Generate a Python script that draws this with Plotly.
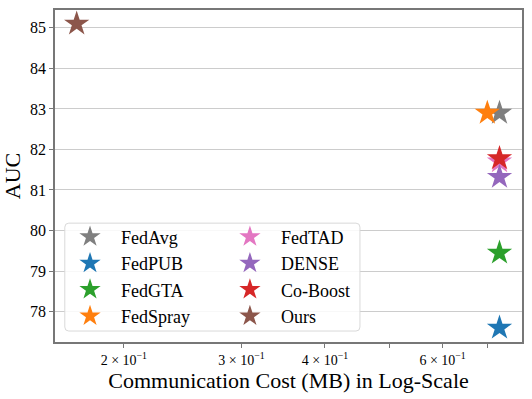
import plotly.graph_objects as go

methods = ["FedAvg", "FedPUB", "FedGTA", "FedSpray", "FedTAD", "DENSE", "Co-Boost", "Ours"]
comm_cost = [0.73, 0.73, 0.73, 0.70, 0.73, 0.73, 0.73, 0.17]
auc = [82.9, 77.6, 79.45, 82.9, 81.7, 81.32, 81.78, 85.1]
colors = ["#7f7f7f", "#1f77b4", "#2ca02c", "#ff7f0e", "#e377c2", "#9467bd", "#d62728", "#8c564b"]

x_tickvals = [0.2, 0.3, 0.4, 0.6]
x_ticktext = ["2 × 10<sup>−1</sup>", "3 × 10<sup>−1</sup>", "4 × 10<sup>−1</sup>",
              "6 × 10<sup>−1</sup>"]
x_minor_ticks = [0.5, 0.7]
y_tickvals = [78, 79, 80, 81, 82, 83, 84, 85]

serif = "Liberation Serif"

fig = go.Figure()
for i, m in enumerate(methods):
    # first four in the left legend column, rest in the right one
    fig.add_trace(go.Scatter(
        x=[comm_cost[i]], y=[auc[i]], mode="markers", name=m,
        marker=dict(symbol="star", size=19, color=colors[i], line=dict(width=0)),
        legend="legend" if i < 4 else "legend2",
    ))

leg = dict(yanchor="top", y=0.372, bgcolor="rgba(0,0,0,0)", borderwidth=0,
           font=dict(family=serif, size=18, color="black"),
           itemwidth=52, tracegroupgap=0, traceorder="normal")

# rounded legend frame (paper coords)
x0, x1, y0, y1 = 0.021, 0.653, 0.033, 0.358
rx, ry = 4 / 467, 4 / 332
frame = (f"M {x0+rx} {y0} L {x1-rx} {y0} Q {x1} {y0} {x1} {y0+ry} "
         f"L {x1} {y1-ry} Q {x1} {y1} {x1-rx} {y1} L {x0+rx} {y1} "
         f"Q {x0} {y1} {x0} {y1-ry} L {x0} {y0+ry} Q {x0} {y0} {x0+rx} {y0} Z")

fig.update_layout(
    width=532, height=399,
    margin=dict(l=55, r=10, t=10, b=57),
    plot_bgcolor="white", paper_bgcolor="white",
    font=dict(family=serif, color="black", size=15),
    showlegend=True,
    legend=dict(leg, x=0.0086, xanchor="left"),
    legend2=dict(leg, x=0.351, xanchor="left"),
    shapes=[dict(type="path", path=frame, xref="paper", yref="paper",
                 fillcolor="rgba(255,255,255,0.85)", line=dict(color="#d9d9d9", width=1),
                 layer="above")],
)
fig.update_xaxes(
    type="log", range=[-0.802, -0.103], automargin=False,
    tickvals=x_tickvals, ticktext=x_ticktext,
    minor=dict(tickvals=x_minor_ticks, ticks="outside", ticklen=4,
               tickcolor="#777777", showgrid=False),
    showgrid=False, zeroline=False,
    showline=True, linecolor="#777777", linewidth=1.5, mirror=True,
    ticks="outside", ticklen=4, tickcolor="#777777",
    tickfont=dict(family=serif, size=14, color="black"),
    title=dict(text="Communication Cost (MB) in Log-Scale",
               font=dict(family=serif, size=22, color="black"), standoff=3),
)
fig.update_yaxes(
    range=[77.25, 85.44], tickvals=y_tickvals, automargin=False,
    showgrid=True, gridcolor="#cccccc", gridwidth=1, zeroline=False,
    showline=True, linecolor="#777777", linewidth=1.5, mirror=True,
    ticks="outside", ticklen=4, tickcolor="#777777",
    tickfont=dict(family=serif, size=16, color="black"),
    title=dict(text="AUC", font=dict(family=serif, size=22, color="black"), standoff=6),
)

fig.write_html("out.html", config={"displayModeBar": False})

# drop the browser's default 8px body margin
with open("out.html", encoding="utf-8") as f:
    html = f.read()
html = html.replace("<head>", "<head><style>body{margin:0;}</style>", 1)
with open("out.html", "w", encoding="utf-8") as f:
    f.write(html)
